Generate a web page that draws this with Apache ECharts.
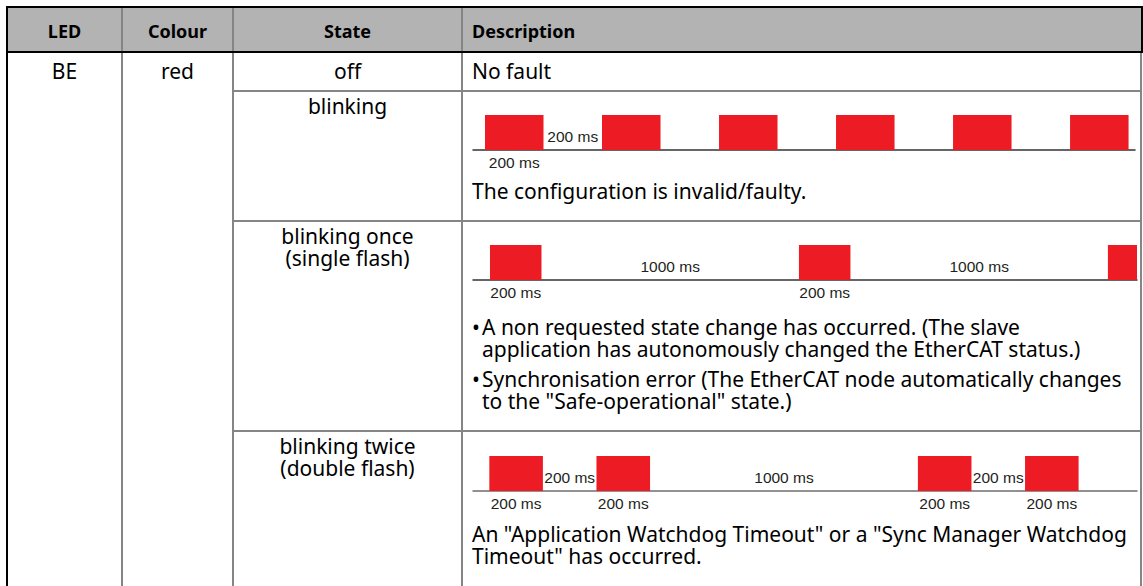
<!DOCTYPE html>
<html><head><meta charset="utf-8">
<script src="https://cdn.jsdelivr.net/npm/echarts@6/dist/echarts.min.js"></script>
<style>html,body{margin:0;padding:0;background:#fff}#c{width:1143px;height:586px}</style>
</head><body><div id="c"></div>
<script>
// ---------- DATA ----------
const headers = ['LED', 'Colour', 'State', 'Description'];
const ledName = 'BE';
const ledColour = 'red';
const states = [['off'], ['blinking'], ['blinking once', '(single flash)'], ['blinking twice', '(double flash)']];
const descriptions = [
  {lines: ['No fault']},
  {lines: ['The configuration is invalid/faulty.']},
  {bullets: [
    ['A non requested state change has occurred. (The slave', 'application has autonomously changed the EtherCAT status.)'],
    ['Synchronisation error (The EtherCAT node automatically changes', 'to the "Safe-operational" state.)']
  ]},
  {lines: ['An "Application Watchdog Timeout" or a "Sync Manager Watchdog', 'Timeout" has occurred.']}
];
// LED "on" intervals in ms: [start, end]
const blinkPulses  = [[0, 200], [400, 600], [800, 1000], [1200, 1400], [1600, 1800], [2000, 2200]];
const singlePulses = [[0, 200], [1200, 1400], [2400, 2600]];
const doublePulses = [[0, 200], [400, 600], [1600, 1800], [2000, 2200]];
// duration notes: [time ms, text, side]
const blinkNotes  = [[300, '200 ms', 'above'], [100, '200 ms', 'below']];
const singleNotes = [[700, '1000 ms', 'above'], [1900, '1000 ms', 'above'], [100, '200 ms', 'below'], [1300, '200 ms', 'below']];
const doubleNotes = [[300, '200 ms', 'above'], [1100, '1000 ms', 'above'], [1900, '200 ms', 'above'],
                     [100, '200 ms', 'below'], [500, '200 ms', 'below'], [1700, '200 ms', 'below'], [2100, '200 ms', 'below']];

// ---------- LAYOUT / STYLE ----------
const RED = '#ed1c24';
const GRAY = '#858585';
const FONT = '"Noto Sans", sans-serif';
const BODY = '21px ' + FONT;
const HEAD = 'bold 18px ' + FONT;
const NOTE = '15.5px "Liberation Sans", Arial, sans-serif';
const LH = 22;
const colX = [7, 122, 233, 462, 1141];
const headerTop = 7, headerBottom = 52;
const rowLines = [91, 221, 431];
const stateY = [71, 106, 236, 446];
const descY = [71, 191, 327, 534];
const bulletGap = 8;
const descX = 472, bulletTextX = 482;

const diagrams = [
  {pulses: blinkPulses, notes: blinkNotes, top: 115, height: 35, right: 8, min: -41, max: 2222, axisColor: '#333'},
  {pulses: singlePulses, notes: singleNotes, top: 245, height: 35, right: 6, min: -66, max: 2513, axisColor: '#333'},
  {pulses: doublePulses, notes: doubleNotes, top: 456, height: 35, right: 6, min: -61, max: 2418, axisColor: '#6e6e6e'}
];

// ---------- TABLE GRAPHICS ----------
const g = [];
g.push({type: 'rect', z: 1, shape: {x: colX[0], y: headerTop, width: 1142 - colX[0], height: headerBottom - headerTop}, style: {fill: '#b3b3b3'}});
function line(x1, y1, x2, y2, color, w) {
  g.push({type: 'line', z: 5, shape: {x1, y1, x2, y2}, style: {stroke: color, lineWidth: w}});
}
for (let i = 1; i < colX.length - 1; i++) line(colX[i], headerTop, colX[i], 586, GRAY, 2);
line(colX[4], headerBottom, colX[4], 586, GRAY, 2);
line(1142, headerTop, 1142, headerBottom, '#000', 2);
line(colX[0], headerTop - 1, colX[0], 586, '#000', 2);
line(colX[0], headerTop, 1143, headerTop, '#000', 2);
line(colX[0], headerBottom, 1143, headerBottom, '#000', 2);
rowLines.forEach(y => line(colX[2], y, colX[4], y, GRAY, 2));

// multi-line text block: y is centre of first line
function text(lines, x, y, font, align) {
  g.push({type: 'text', z: 6, x, y: y - LH / 2,
    style: {text: lines.join('\n'), font, fill: '#000', align, verticalAlign: 'top', lineHeight: LH}});
}
const headerY = (headerTop + headerBottom) / 2 + 1;
headers.forEach((h, i) => {
  const x = i < 3 ? (colX[i] + colX[i + 1]) / 2 : colX[3] + 10;
  g.push({type: 'text', z: 6, x, y: headerY,
    style: {text: h, font: HEAD, fill: '#000', align: i < 3 ? 'center' : 'left', verticalAlign: 'middle'}});
});
text([ledName], (colX[0] + colX[1]) / 2, stateY[0], BODY, 'center');
text([ledColour], (colX[1] + colX[2]) / 2, stateY[0], BODY, 'center');
states.forEach((ls, r) => text(ls, (colX[2] + colX[3]) / 2, stateY[r], BODY, 'center'));
descriptions.forEach((d, r) => {
  if (d.lines) { text(d.lines, descX, descY[r], BODY, 'left'); return; }
  let y = descY[r];
  d.bullets.forEach(b => {
    text(['•'], descX, y, BODY, 'left');
    text(b, bulletTextX, y, BODY, 'left');
    y += b.length * LH + bulletGap;
  });
});

// ---------- CHART ----------
const grid = [], xAxis = [], yAxis = [], series = [];
diagrams.forEach((d, i) => {
  grid.push({left: 473, right: d.right, top: d.top, height: d.height});
  xAxis.push({type: 'value', gridIndex: i, min: d.min, max: d.max,
    axisLine: {show: true, onZero: false, lineStyle: {color: d.axisColor, width: 1.5}},
    axisTick: {show: false}, axisLabel: {show: false}, splitLine: {show: false}});
  yAxis.push({type: 'value', gridIndex: i, min: 0, max: 1, show: false});
  series.push({
    type: 'custom', xAxisIndex: i, yAxisIndex: i, data: d.pulses, encode: {x: [0, 1]},
    renderItem: (params, api) => {
      const s = api.coord([api.value(0), 1]);
      const e = api.coord([api.value(1), 0]);
      const cs = params.coordSys;
      const r = echarts.graphic.clipRectByRect(
        {x: s[0], y: s[1], width: e[0] - s[0], height: e[1] - s[1]},
        {x: cs.x, y: cs.y, width: cs.width, height: cs.height});
      return r && {type: 'rect', shape: r, style: {fill: RED}};
    }
  });
  series.push({
    type: 'custom', xAxisIndex: i, yAxisIndex: i, data: d.notes.map(n => [n[0], 0]),
    encode: {x: 0, y: 1},
    renderItem: (params, api) => {
      const n = d.notes[params.dataIndex];
      const p = api.coord([api.value(0), 0]);
      return {type: 'text', x: p[0], y: p[1] + (n[2] === 'above' ? -13.5 : 12),
        style: {text: n[1], font: NOTE, fill: '#231f20', align: 'center', verticalAlign: 'middle'}};
    }
  });
});

const chart = echarts.init(document.getElementById('c'), null, {renderer: 'svg'});
chart.setOption({animation: false, backgroundColor: '#fff', graphic: g, grid, xAxis, yAxis, series});
</script>
</body></html>
